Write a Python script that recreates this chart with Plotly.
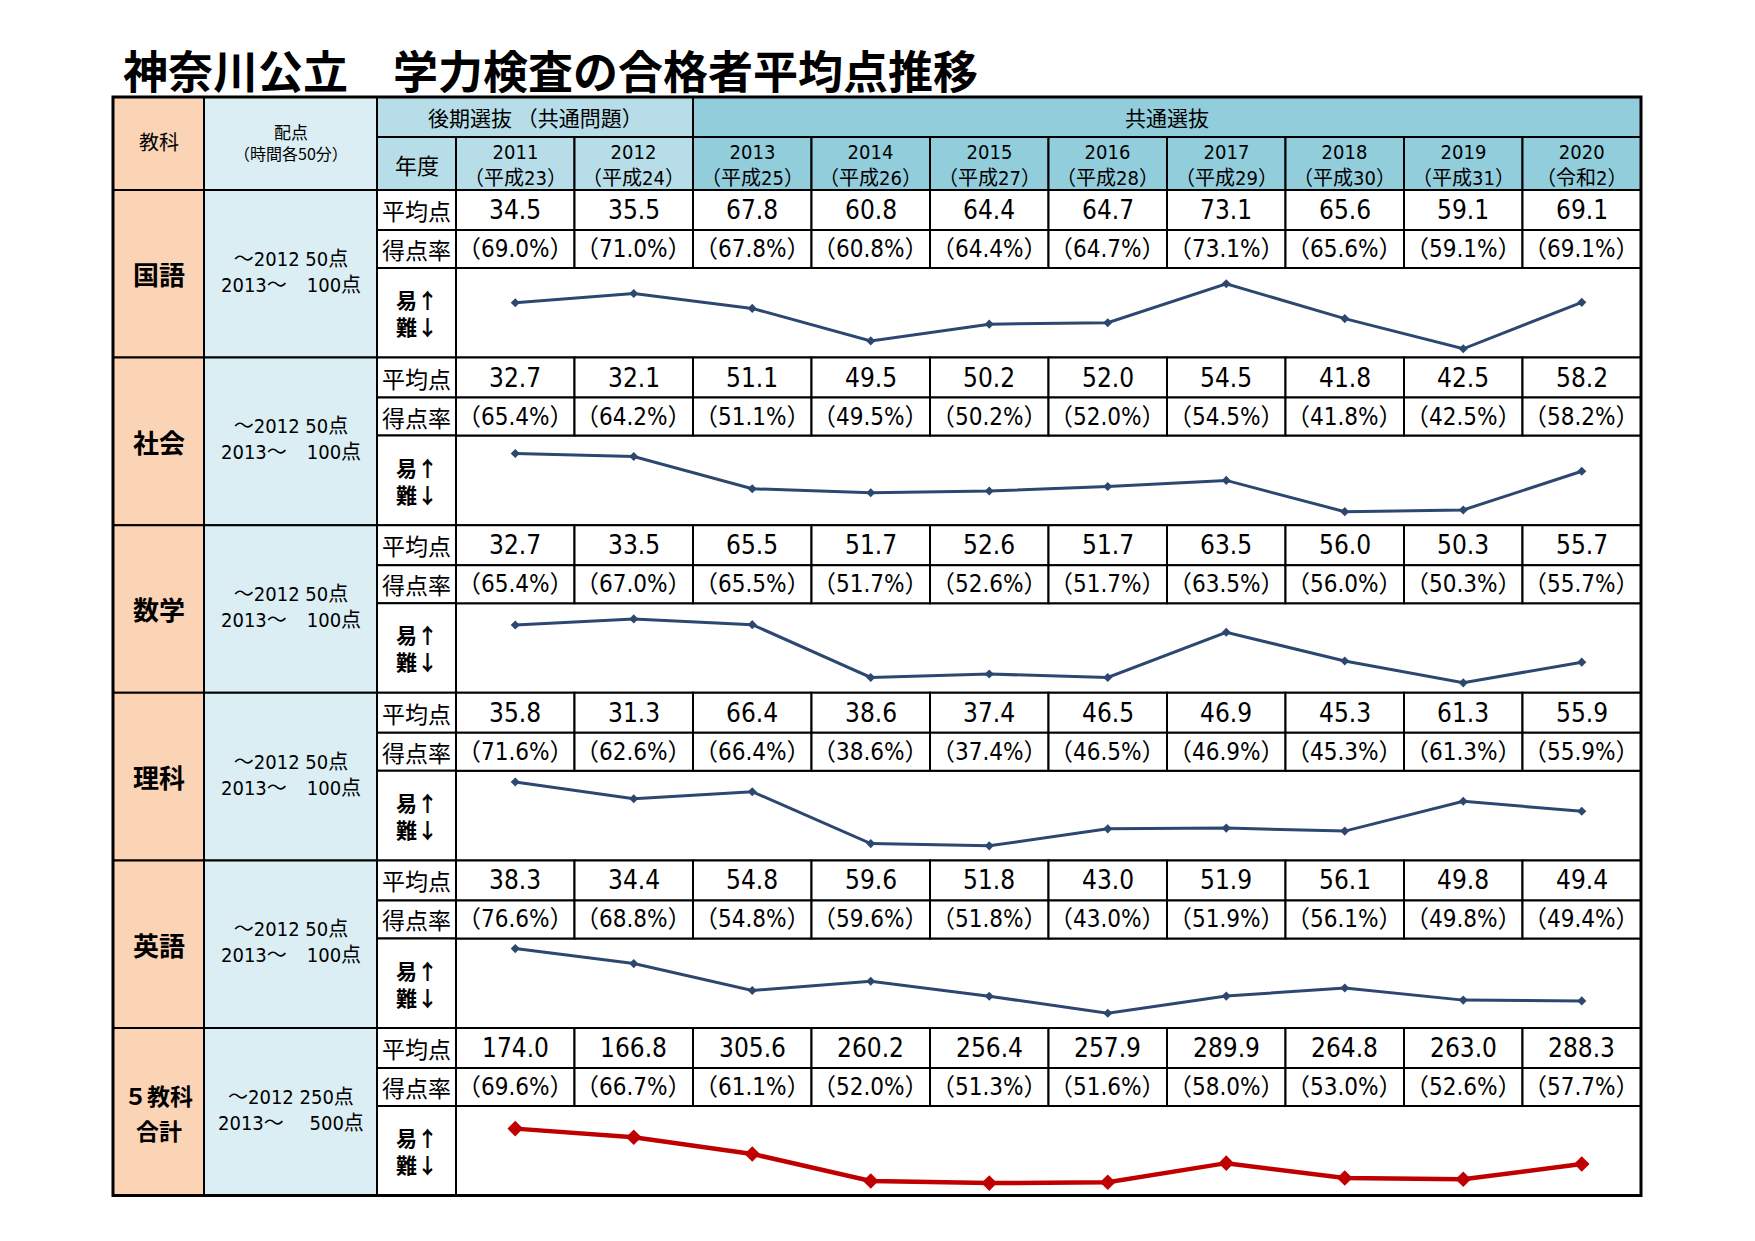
import plotly.graph_objects as go

# --- data ---
years = [2011, 2012, 2013, 2014, 2015, 2016, 2017, 2018, 2019, 2020]
eras = ["平成23", "平成24", "平成25", "平成26", "平成27", "平成28", "平成29", "平成30", "平成31", "令和2"]

subjects = [["国語"], ["社会"], ["数学"], ["理科"], ["英語"], ["５教科", "合計"]]
points = ["～2012 50点<br>2013～　100点"] * 5 + ["～2012 250点<br>2013～　 500点"]

avg_kokugo = [34.5, 35.5, 67.8, 60.8, 64.4, 64.7, 73.1, 65.6, 59.1, 69.1]
rate_kokugo = [69.0, 71.0, 67.8, 60.8, 64.4, 64.7, 73.1, 65.6, 59.1, 69.1]
avg_shakai = [32.7, 32.1, 51.1, 49.5, 50.2, 52.0, 54.5, 41.8, 42.5, 58.2]
rate_shakai = [65.4, 64.2, 51.1, 49.5, 50.2, 52.0, 54.5, 41.8, 42.5, 58.2]
avg_sugaku = [32.7, 33.5, 65.5, 51.7, 52.6, 51.7, 63.5, 56.0, 50.3, 55.7]
rate_sugaku = [65.4, 67.0, 65.5, 51.7, 52.6, 51.7, 63.5, 56.0, 50.3, 55.7]
avg_rika = [35.8, 31.3, 66.4, 38.6, 37.4, 46.5, 46.9, 45.3, 61.3, 55.9]
rate_rika = [71.6, 62.6, 66.4, 38.6, 37.4, 46.5, 46.9, 45.3, 61.3, 55.9]
avg_eigo = [38.3, 34.4, 54.8, 59.6, 51.8, 43.0, 51.9, 56.1, 49.8, 49.4]
rate_eigo = [76.6, 68.8, 54.8, 59.6, 51.8, 43.0, 51.9, 56.1, 49.8, 49.4]
avg_total = [174.0, 166.8, 305.6, 260.2, 256.4, 257.9, 289.9, 264.8, 263.0, 288.3]
rate_total = [69.6, 66.7, 61.1, 52.0, 51.3, 51.6, 58.0, 53.0, 52.6, 57.7]

avg_all = [avg_kokugo, avg_shakai, avg_sugaku, avg_rika, avg_eigo, avg_total]
rate_all = [rate_kokugo, rate_shakai, rate_sugaku, rate_rika, rate_eigo, rate_total]

# --- layout geometry (pixels) ---
W, H = 1755, 1241
OFF = 8  # page body margin
X_SUBJ, X_PTS, X_LBL, X_YR, X_END = 113, 204, 377, 456, 1641
Y_TOP, Y_H1, Y_H2 = 97, 137, 190
BLOCK_H = 167.6
ROW_AVG, ROW_RATE = 40, 38
COL_W = (X_END - X_YR) / 10

Y_RANGES = [(57.2, 76.5), (36.3, 72.7), (47.7, 71.1), (29.6, 77.6), (35.3, 81.9), (47.1, 77.2)]

PEACH = "#FBD3B5"
PALE = "#DAEEF3"
MID = "#B7DEE8"
DARK = "#92CDDC"
NAVY = "#2C4770"
RED = "#C00000"
FONT = "DejaVu Sans Condensed, Noto Sans CJK JP, sans-serif"
JFONT = "Noto Sans CJK JP, sans-serif"


def px(x):
    return (x - OFF) / W


def py(y):
    return 1 - (y - OFF) / H


shapes = []
annotations = []


def cell(x0, y0, x1, y1, fill="white", lw=2):
    shapes.append(dict(type="rect", xref="paper", yref="paper",
                       x0=px(x0), x1=px(x1), y0=py(y1), y1=py(y0),
                       fillcolor=fill, line=dict(color="black", width=lw), layer="below"))


def text(x, y, s, size, family=FONT, xanchor="center"):
    annotations.append(dict(xref="paper", yref="paper", x=px(x), y=py(y), text=s,
                            showarrow=False, xanchor=xanchor, yanchor="middle",
                            font=dict(size=size, family=family, color="black")))


def col_x(i):
    return X_YR + i * COL_W


# header
cell(X_SUBJ, Y_TOP, X_PTS, Y_H2, PEACH)
text((X_SUBJ + X_PTS) / 2, (Y_TOP + Y_H2) / 2 - 2, "教科", 20, JFONT)
cell(X_PTS, Y_TOP, X_LBL, Y_H2, PALE)
text((X_PTS + X_LBL) / 2, (Y_TOP + Y_H2) / 2 - 12, "配点", 17, JFONT)
text((X_PTS + X_LBL) / 2, (Y_TOP + Y_H2) / 2 + 9, "（時間各50分）", 16, JFONT)
cell(X_LBL, Y_TOP, col_x(2), Y_H1, MID)
text((X_LBL + col_x(2)) / 2, (Y_TOP + Y_H1) / 2, "後期選抜 （共通問題）", 21, JFONT)
cell(col_x(2), Y_TOP, X_END, Y_H1, DARK)
text((col_x(2) + X_END) / 2, (Y_TOP + Y_H1) / 2, "共通選抜", 21, JFONT)
cell(X_LBL, Y_H1, X_YR, Y_H2, MID)
text((X_LBL + X_YR) / 2, (Y_H1 + Y_H2) / 2, "年度", 22, JFONT)
for i, (yr, era) in enumerate(zip(years, eras)):
    cell(col_x(i), Y_H1, col_x(i + 1), Y_H2, MID if yr < 2013 else DARK)
    text((col_x(i) + col_x(i + 1)) / 2, (Y_H1 + Y_H2) / 2 + 1, f"{yr}<br>（{era}）", 20, FONT)

traces = []
layout_axes = {}
for k, subj in enumerate(subjects):
    top = Y_H2 + k * BLOCK_H
    r1 = top + ROW_AVG
    r2 = r1 + ROW_RATE
    bot = top + BLOCK_H
    cell(X_SUBJ, top, X_PTS, bot, PEACH)
    mid = (top + bot) / 2
    if len(subj) == 1:
        text((X_SUBJ + X_PTS) / 2, mid, f"<b>{subj[0]}</b>", 26, JFONT)
    else:
        text((X_SUBJ + X_PTS) / 2, mid - 17, f"<b>{subj[0]}</b>", 23, JFONT)
        text((X_SUBJ + X_PTS) / 2, mid + 18, f"<b>{subj[1]}</b>", 23, JFONT)
    cell(X_PTS, top, X_LBL, bot, PALE)
    text((X_PTS + X_LBL) / 2, mid - 2, points[k], 20, FONT)
    cell(X_LBL, top, X_YR, r1)
    text((X_LBL + X_YR) / 2, (top + r1) / 2, "平均点", 23, JFONT)
    cell(X_LBL, r1, X_YR, r2)
    text((X_LBL + X_YR) / 2, (r1 + r2) / 2, "得点率", 23, JFONT)
    cell(X_LBL, r2, X_YR, bot)
    text((X_LBL + X_YR) / 2, (r2 + bot) / 2, "<b>易↑<br>難↓</b>", 21, JFONT)
    cell(X_YR, r2, X_END, bot)
    for i in range(10):
        cx = (col_x(i) + col_x(i + 1)) / 2
        cell(col_x(i), top, col_x(i + 1), r1)
        text(cx, (top + r1) / 2, f"{avg_all[k][i]:.1f}", 26)
        cell(col_x(i), r1, col_x(i + 1), r2)
        text(cx, (r1 + r2) / 2, f"（{rate_all[k][i]:.1f}%）", 24)

    # trend line
    n = "" if k == 0 else str(k + 1)
    red = k == len(subjects) - 1
    traces.append(go.Scatter(
        x=list(range(10)), y=rate_all[k], mode="lines+markers",
        xaxis="x" + n, yaxis="y" + n,
        line=dict(color=RED if red else NAVY, width=4.5 if red else 3),
        marker=dict(symbol="diamond", size=12 if red else 7, color=RED if red else NAVY),
        showlegend=False, hoverinfo="skip"))
    layout_axes["xaxis" + n] = dict(domain=[px(X_YR), px(X_END)], range=[-0.5, 9.5],
                                    visible=False, anchor="y" + n)
    layout_axes["yaxis" + n] = dict(domain=[py(bot), py(r2)], range=list(Y_RANGES[k]),
                                    visible=False, anchor="x" + n)

# outer frame
shapes.append(dict(type="rect", xref="paper", yref="paper",
                   x0=px(X_SUBJ), x1=px(X_END), y0=py(Y_H2 + 6 * BLOCK_H), y1=py(Y_TOP),
                   line=dict(color="black", width=3), layer="above"))

# title
text(121, 70, "<b>神奈川公立　学力検査の合格者平均点推移</b>", 45, JFONT, "left")

fig = go.Figure(data=traces)
fig.update_layout(width=W, height=H, margin=dict(l=0, r=0, t=0, b=0),
                  paper_bgcolor="white", plot_bgcolor="rgba(0,0,0,0)",
                  shapes=shapes, annotations=annotations, **layout_axes)
fig.write_html("out.html")
